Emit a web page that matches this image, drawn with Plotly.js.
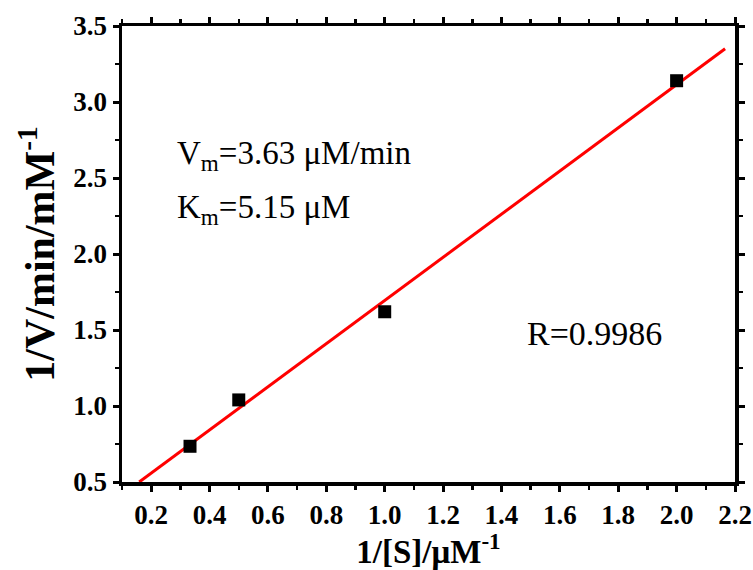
<!DOCTYPE html>
<html>
<head>
<meta charset="utf-8">
<script src="https://cdn.plot.ly/plotly-3.0.1.min.js"></script>
<style>html,body{margin:0;padding:0;background:#fff;}</style>
</head>
<body>
<div id="chart" style="width:753px;height:570px;"></div>
<script>
// Data points (1/[S], 1/V)
const invS = [0.333, 0.5, 1.0, 2.0];
const invV = [0.735, 1.04, 1.62, 3.14];
// Fitted line endpoints
const fitX = [0.159, 2.166];
const fitY = [0.5, 3.35];
// Ticks
const xTicks = [0.2, 0.4, 0.6, 0.8, 1.0, 1.2, 1.4, 1.6, 1.8, 2.0, 2.2];
const xTickText = ['0.2','0.4','0.6','0.8','1.0','1.2','1.4','1.6','1.8','2.0','2.2'];
const yTicks = [0.5, 1.0, 1.5, 2.0, 2.5, 3.0, 3.5];
const yTickText = ['0.5','1.0','1.5','2.0','2.5','3.0','3.5'];

const serif = 'Liberation Serif';

const traces = [
  {x: fitX, y: fitY, mode: 'lines', line: {color: '#ff0000', width: 3}, hoverinfo: 'skip'},
  {x: invS, y: invV, mode: 'markers', marker: {symbol: 'square', size: 13, color: '#000'}}
];

const axisCommon = {
  showgrid: false, zeroline: false,
  showline: true, linecolor: '#000', linewidth: 3.5,
  mirror: 'allticks',
  ticks: 'outside', ticklen: 6, tickwidth: 3, tickcolor: '#000',
  tickfont: {family: serif, size: 27, color: '#000', weight: 'bold'}
};

const layout = {
  width: 753, height: 570,
  margin: {l: 122, r: 18, t: 26, b: 88},
  paper_bgcolor: '#fff', plot_bgcolor: '#fff',
  showlegend: false,
  font: {family: serif},
  xaxis: Object.assign({}, axisCommon, {
    range: [0.1, 2.2], tickvals: xTicks, ticktext: xTickText,
    minor: {dtick: 0.1, tick0: 0.1, ticks: 'outside', ticklen: 4, tickwidth: 2.5, tickcolor: '#000'},
    title: {text: '1/[S]/μM<sup>-1</sup>', font: {family: serif, size: 33, color: '#000', weight: 'bold'}, standoff: 4}
  }),
  yaxis: Object.assign({}, axisCommon, {
    range: [0.5, 3.5], tickvals: yTicks, ticktext: yTickText,
    minor: {dtick: 0.25, tick0: 0.5, ticks: 'outside', ticklen: 4, tickwidth: 2.5, tickcolor: '#000'},
    title: {text: '1/V/min/mM<sup>-1</sup>', font: {family: serif, size: 42, color: '#000', weight: 'bold'}, standoff: 6}
  }),
  annotations: [
    {x: 0.28, y: 2.65, xref: 'x', yref: 'y', xanchor: 'left', yanchor: 'middle', showarrow: false,
     text: 'V<sub>m</sub>=3.63 μM/min', font: {family: serif, size: 33, color: '#000'}},
    {x: 0.28, y: 2.29, xref: 'x', yref: 'y', xanchor: 'left', yanchor: 'middle', showarrow: false,
     text: 'K<sub>m</sub>=5.15 μM', font: {family: serif, size: 33, color: '#000'}},
    {x: 1.48, y: 1.48, xref: 'x', yref: 'y', xanchor: 'left', yanchor: 'middle', showarrow: false,
     text: 'R=0.9986', font: {family: serif, size: 34, color: '#000'}}
  ]
};

Plotly.newPlot('chart', traces, layout, {displayModeBar: false, staticPlot: true});
</script>
</body>
</html>
